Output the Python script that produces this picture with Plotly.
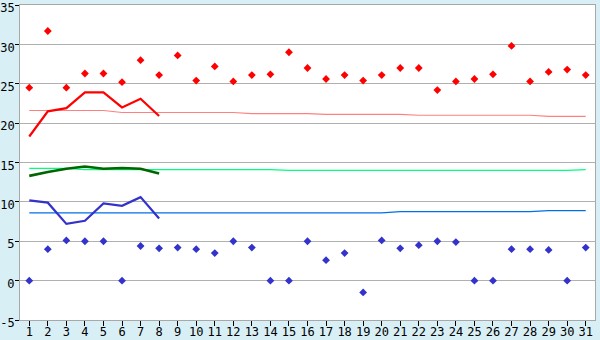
import plotly.graph_objects as go

days = list(range(1, 32))

max_obs = [24.5, 31.7, 24.5, 26.3, 26.3, 25.2, 28.0, 26.1, 28.6, 25.4,
           27.2, 25.3, 26.1, 26.2, 29.0, 27.0, 25.6, 26.1, 25.4, 26.1,
           27.0, 27.0, 24.2, 25.3, 25.6, 26.2, 29.8, 25.3, 26.5, 26.8, 26.1]
min_obs = [0.0, 4.0, 5.1, 5.0, 5.0, 0.0, 4.4, 4.1, 4.2, 4.0,
           3.5, 5.0, 4.2, 0.0, 0.0, 5.0, 2.6, 3.5, -1.5, 5.1,
           4.1, 4.5, 5.0, 4.9, 0.0, 0.0, 4.0, 4.0, 3.9, 0.0, 4.2]

line_days = [1, 2, 3, 4, 5, 6, 7, 8]
max_line = [18.3, 21.5, 21.9, 23.9, 23.9, 22.0, 23.1, 20.9]
mean_line = [13.3, 13.8, 14.2, 14.5, 14.2, 14.3, 14.2, 13.6]
min_line = [10.2, 9.9, 7.2, 7.6, 9.8, 9.5, 10.6, 7.9]

max_normal = [21.6] * 5 + [21.35] * 7 + [21.2] * 4 + [21.1] * 5 + [21.0] * 7 + [20.85] * 3
mean_normal = [14.25] * 3 + [14.1] * 11 + [14.0] * 16 + [14.1]
min_normal = [8.6] * 20 + [8.75] * 8 + [8.9] * 3

yticks = [-5, 0, 5, 10, 15, 20, 25, 30, 35]

fig = go.Figure()
fig.add_trace(go.Scatter(x=days, y=max_normal, mode="lines",
                         line=dict(color="#ff8080", width=1.2), hoverinfo="skip"))
fig.add_trace(go.Scatter(x=days, y=mean_normal, mode="lines",
                         line=dict(color="#00ff80", width=1.2), hoverinfo="skip"))
fig.add_trace(go.Scatter(x=days, y=min_normal, mode="lines",
                         line=dict(color="#0070e8", width=1.2), hoverinfo="skip"))
fig.add_trace(go.Scatter(x=line_days, y=max_line, mode="lines",
                         line=dict(color="#ff0000", width=2.2)))
fig.add_trace(go.Scatter(x=line_days, y=mean_line, mode="lines",
                         line=dict(color="#006600", width=2.6)))
fig.add_trace(go.Scatter(x=line_days, y=min_line, mode="lines",
                         line=dict(color="#3333cc", width=2.2)))
fig.add_trace(go.Scatter(x=days, y=max_obs, mode="markers",
                         marker=dict(symbol="diamond", size=6, color="#ff0000")))
fig.add_trace(go.Scatter(x=days, y=min_obs, mode="markers",
                         marker=dict(symbol="diamond", size=6, color="#3333cc")))

font = dict(family="DejaVu Sans Mono", size=12, color="#000000")
fig.update_layout(
    width=600, height=340,
    margin=dict(l=20, r=5, t=5, b=20, autoexpand=False),
    paper_bgcolor="#d9eff6",
    plot_bgcolor="#ffffff",
    showlegend=False,
    font=font,
    xaxis=dict(range=[0.5, 31.5], tickvals=days, ticktext=[str(d) for d in days],
               showgrid=False, zeroline=False, showline=True, linecolor="#a8a8a8",
               linewidth=1, mirror=True, ticks="outside", ticklen=5,
               tickcolor="#000000", tickfont=font, automargin=False,
               ticklabeloverflow="allow", ticklabelstandoff=-4),
    yaxis=dict(range=[-5, 35], tickvals=yticks, ticktext=[str(v) for v in yticks],
               showgrid=True, gridcolor="#b0b0b0", gridwidth=1, zeroline=False,
               showline=True, linecolor="#a8a8a8", linewidth=1, mirror=True,
               ticks="outside", ticklen=4, tickcolor="#000000", tickfont=font,
               automargin=False, ticklabeloverflow="allow", ticklabelstandoff=-2,
               ticklabelshift=3),
)

fig.write_html("out.html")
